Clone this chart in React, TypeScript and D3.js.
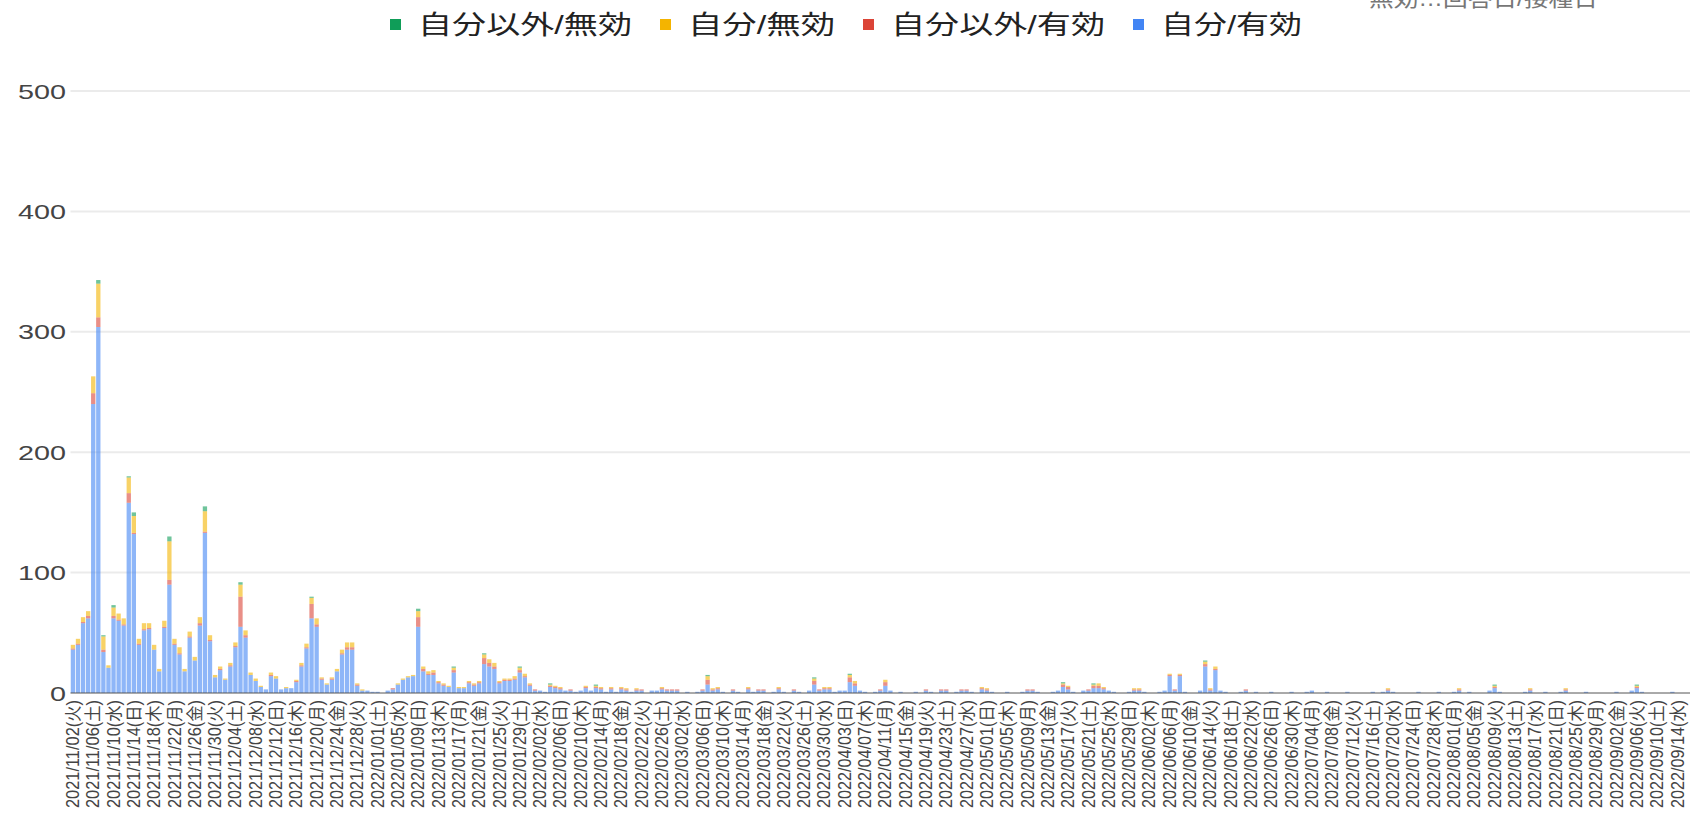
import React, { useEffect, useRef } from "react";
import * as d3 from "d3";

// daily counts from 2021/11/02, one entry per day
const selfValid = [
  36, 40, 58, 62, 240, 304, 34, 21, 62, 60,
  56, 158, 132, 40, 52, 53, 36, 18, 54, 90,
  40, 32, 18, 46, 27, 56, 133, 43, 13, 19,
  11, 22, 38, 55, 46, 15, 10, 5, 3, 14,
  12, 3, 4, 4, 9, 22, 37, 62, 55, 11,
  7, 11, 18, 32, 36, 36, 6, 2, 2, 1,
  1, 0, 2, 3, 7, 11, 13, 14, 55, 18,
  15, 15, 8, 6, 5, 17, 4, 4, 8, 6,
  8, 24, 22, 20, 8, 10, 10, 11, 17, 13,
  6, 2, 2, 1, 5, 4, 3, 2, 2, 1,
  2, 4, 2, 4, 3, 1, 3, 1, 3, 2,
  1, 2, 2, 0, 2, 2, 3, 2, 2, 2,
  0, 1, 0, 1, 2, 7, 2, 3, 1, 0,
  2, 1, 0, 3, 1, 2, 2, 0, 1, 3,
  1, 0, 2, 1, 0, 2, 7, 2, 3, 3,
  1, 2, 2, 9, 6, 2, 1, 0, 1, 2,
  6, 2, 0, 1, 0, 0, 1, 0, 2, 1,
  0, 2, 2, 0, 1, 2, 2, 1, 0, 3,
  2, 1, 0, 0, 1, 0, 0, 1, 2, 2,
  1, 0, 0, 1, 2, 5, 3, 1, 0, 2,
  2, 4, 4, 3, 2, 1, 0, 0, 1, 2,
  2, 1, 0, 0, 1, 2, 14, 2, 14, 1,
  0, 0, 2, 22, 2, 19, 2, 1, 0, 0,
  1, 2, 0, 1, 0, 0, 1, 0, 0, 0,
  1, 0, 0, 1, 2, 0, 0, 1, 0, 0,
  0, 1, 0, 0, 0, 0, 1, 0, 1, 2,
  1, 0, 0, 0, 0, 1, 0, 0, 0, 1,
  0, 0, 1, 2, 0, 1, 0, 0, 0, 2,
  4, 1, 0, 0, 0, 0, 1, 2, 0, 0,
  1, 0, 0, 1, 2, 0, 0, 0, 1, 0,
  0, 0, 0, 0, 1, 0, 0, 2, 4, 1,
  0, 0, 0, 0, 0, 1, 0, 0, 0,
];

const otherValid = [
  1, 1, 1, 2, 9, 8, 2, 0, 2, 1,
  1, 8, 1, 1, 1, 1, 0, 0, 1, 4,
  1, 1, 0, 1, 0, 2, 1, 1, 0, 1,
  0, 1, 1, 25, 2, 0, 0, 0, 0, 1,
  0, 0, 0, 0, 1, 1, 1, 12, 2, 1,
  0, 1, 0, 1, 2, 2, 1, 0, 0, 0,
  0, 0, 0, 1, 0, 0, 0, 0, 8, 2,
  1, 2, 1, 1, 0, 2, 0, 0, 1, 1,
  1, 5, 3, 2, 1, 1, 1, 1, 2, 1,
  1, 1, 0, 0, 1, 1, 1, 0, 1, 0,
  0, 1, 0, 1, 1, 0, 1, 0, 1, 1,
  0, 1, 1, 0, 0, 0, 1, 1, 1, 1,
  0, 0, 0, 0, 1, 4, 1, 1, 0, 0,
  1, 0, 0, 1, 0, 1, 1, 0, 0, 1,
  0, 0, 1, 0, 0, 0, 3, 1, 1, 1,
  0, 0, 0, 4, 2, 0, 0, 0, 0, 1,
  3, 0, 0, 0, 0, 0, 0, 0, 1, 0,
  0, 1, 1, 0, 0, 1, 1, 0, 0, 1,
  1, 0, 0, 0, 0, 0, 0, 0, 1, 1,
  0, 0, 0, 0, 0, 2, 2, 0, 0, 0,
  1, 2, 2, 1, 0, 0, 0, 0, 0, 1,
  1, 0, 0, 0, 0, 0, 1, 1, 1, 0,
  0, 0, 0, 2, 1, 1, 0, 0, 0, 0,
  0, 1, 0, 0, 0, 0, 0, 0, 0, 0,
  0, 0, 0, 0, 0, 0, 0, 0, 0, 0,
  0, 0, 0, 0, 0, 0, 0, 0, 0, 1,
  0, 0, 0, 0, 0, 0, 0, 0, 0, 0,
  0, 0, 0, 1, 0, 0, 0, 0, 0, 0,
  1, 0, 0, 0, 0, 0, 0, 1, 0, 0,
  0, 0, 0, 0, 1, 0, 0, 0, 0, 0,
  0, 0, 0, 0, 0, 0, 0, 0, 1, 0,
  0, 0, 0, 0, 0, 0, 0, 0, 0,
];

const selfInvalid = [
  3, 4, 4, 4, 14, 28, 11, 2, 7, 5,
  5, 13, 14, 4, 5, 4, 4, 2, 5, 32,
  4, 5, 2, 4, 3, 5, 17, 4, 2, 2,
  1, 2, 3, 10, 4, 2, 2, 1, 0, 2,
  2, 0, 1, 0, 1, 2, 3, 5, 5, 1,
  1, 1, 2, 3, 4, 4, 1, 1, 0, 0,
  0, 0, 0, 0, 1, 1, 1, 1, 5, 2,
  2, 2, 1, 1, 1, 2, 1, 1, 1, 1,
  1, 3, 3, 3, 1, 1, 1, 2, 2, 2,
  1, 0, 0, 0, 1, 1, 1, 0, 0, 0,
  0, 1, 0, 1, 1, 0, 1, 0, 1, 1,
  0, 1, 0, 0, 0, 0, 1, 0, 0, 0,
  0, 0, 0, 0, 0, 3, 1, 1, 0, 0,
  0, 0, 0, 1, 0, 0, 0, 0, 0, 1,
  0, 0, 0, 0, 0, 0, 2, 0, 1, 1,
  0, 0, 0, 2, 2, 0, 0, 0, 0, 0,
  2, 0, 0, 0, 0, 0, 0, 0, 0, 0,
  0, 0, 0, 0, 0, 0, 0, 0, 0, 1,
  1, 0, 0, 0, 0, 0, 0, 0, 0, 0,
  0, 0, 0, 0, 0, 1, 1, 0, 0, 0,
  0, 1, 2, 1, 0, 0, 0, 0, 0, 1,
  1, 0, 0, 0, 0, 0, 1, 0, 1, 0,
  0, 0, 0, 2, 1, 2, 0, 0, 0, 0,
  0, 0, 0, 0, 0, 0, 0, 0, 0, 0,
  0, 0, 0, 0, 0, 0, 0, 0, 0, 0,
  0, 0, 0, 0, 0, 0, 0, 0, 0, 1,
  0, 0, 0, 0, 0, 0, 0, 0, 0, 0,
  0, 0, 0, 1, 0, 0, 0, 0, 0, 0,
  1, 0, 0, 0, 0, 0, 0, 1, 0, 0,
  0, 0, 0, 0, 1, 0, 0, 0, 0, 0,
  0, 0, 0, 0, 0, 0, 0, 0, 1, 0,
  0, 0, 0, 0, 0, 0, 0, 0, 0,
];

const otherInvalid = [
  0, 0, 0, 0, 0, 3, 1, 0, 2, 0,
  0, 1, 3, 0, 0, 0, 0, 0, 0, 4,
  0, 0, 0, 0, 0, 0, 4, 0, 0, 0,
  0, 0, 0, 2, 0, 0, 0, 0, 0, 0,
  0, 0, 0, 0, 0, 0, 0, 1, 0, 0,
  0, 0, 0, 0, 0, 0, 0, 0, 0, 0,
  0, 0, 0, 0, 0, 0, 0, 0, 2, 0,
  0, 0, 0, 0, 0, 1, 0, 0, 0, 0,
  0, 1, 0, 0, 0, 0, 0, 0, 1, 0,
  0, 0, 0, 0, 1, 0, 0, 0, 0, 0,
  0, 0, 0, 1, 0, 0, 0, 0, 0, 0,
  0, 0, 0, 0, 0, 0, 0, 0, 0, 0,
  0, 0, 0, 0, 0, 1, 0, 0, 0, 0,
  0, 0, 0, 0, 0, 0, 0, 0, 0, 0,
  0, 0, 0, 0, 0, 0, 1, 0, 0, 0,
  0, 0, 0, 1, 0, 0, 0, 0, 0, 0,
  0, 0, 0, 0, 0, 0, 0, 0, 0, 0,
  0, 0, 0, 0, 0, 0, 0, 0, 0, 0,
  0, 0, 0, 0, 0, 0, 0, 0, 0, 0,
  0, 0, 0, 0, 0, 1, 0, 0, 0, 0,
  0, 1, 0, 0, 0, 0, 0, 0, 0, 0,
  0, 0, 0, 0, 0, 0, 0, 0, 0, 0,
  0, 0, 0, 1, 0, 0, 0, 0, 0, 0,
  0, 0, 0, 0, 0, 0, 0, 0, 0, 0,
  0, 0, 0, 0, 0, 0, 0, 0, 0, 0,
  0, 0, 0, 0, 0, 0, 0, 0, 0, 0,
  0, 0, 0, 0, 0, 0, 0, 0, 0, 0,
  0, 0, 0, 0, 0, 0, 0, 0, 0, 0,
  1, 0, 0, 0, 0, 0, 0, 0, 0, 0,
  0, 0, 0, 0, 0, 0, 0, 0, 0, 0,
  0, 0, 0, 0, 0, 0, 0, 0, 1, 0,
  0, 0, 0, 0, 0, 0, 0, 0, 0,
];

const seriesKeys = ["selfValid", "otherValid", "selfInvalid", "otherInvalid"];
const seriesNames = ["自分/有効", "自分以外/有効", "自分/無効", "自分以外/無効"];
const seriesColors = ["#4285f4", "#db4437", "#f4b400", "#0f9d58"];
const weekdays = ["日", "月", "火", "水", "木", "金", "土"];
const yTicks = [0, 100, 200, 300, 400, 500];
const note = "無効…回答日/接種日";

const font = "Arial, 'Liberation Sans', 'Noto Sans CJK JP', sans-serif";

export default function App() {
  const ref = useRef<SVGSVGElement>(null);
  const width = 1693;
  const height = 814;
  const plotLeft = 70.5;
  const plotRight = 1690;
  const plotTop = 91;
  const plotBottom = 693;

  useEffect(() => {
    const start = new Date(2021, 10, 2);
    const dates = d3.timeDay.range(start, d3.timeDay.offset(start, selfValid.length));
    const rows = dates.map((date, i) => ({
      date,
      selfValid: selfValid[i],
      otherValid: otherValid[i],
      selfInvalid: selfInvalid[i],
      otherInvalid: otherInvalid[i],
    }));

    const x = d3
      .scaleBand<number>()
      .domain(d3.range(rows.length))
      .range([plotLeft, plotRight])
      .paddingInner(0.15)
      .paddingOuter(0.05);
    const y = d3.scaleLinear().domain([0, 500]).range([plotBottom, plotTop]);

    const svg = d3.select(ref.current);
    svg.selectAll("*").remove();

    // gridlines
    svg
      .append("g")
      .selectAll("line")
      .data(yTicks.filter((t) => t > 0))
      .join("line")
      .attr("x1", plotLeft)
      .attr("x2", plotRight)
      .attr("y1", (d) => y(d))
      .attr("y2", (d) => y(d))
      .attr("stroke", "#ebebeb")
      .attr("stroke-width", 2);

    // y labels
    svg
      .append("g")
      .selectAll("text")
      .data(yTicks)
      .join("text")
      .attr("x", 66)
      .attr("y", (d) => y(d))
      .attr("dy", "0.36em")
      .attr("text-anchor", "end")
      .attr("font-size", 21)
      .attr("fill", "#444")
      .attr("textLength", (d) => String(d).length * 16)
      .attr("lengthAdjust", "spacingAndGlyphs")
      .text((d) => d);

    // stacked bars
    const stacked = d3.stack<any>().keys(seriesKeys)(rows);
    svg
      .append("g")
      .selectAll("g")
      .data(stacked)
      .join("g")
      .attr("fill", (_, i) => seriesColors[i])
      .attr("fill-opacity", 0.6)
      .selectAll("rect")
      .data((s) => s.map((d, i) => ({ d, i })))
      .join("rect")
      .attr("x", (p) => x(p.i)!)
      .attr("width", x.bandwidth())
      .attr("y", (p) => y(p.d[1]))
      .attr("height", (p) => y(p.d[0]) - y(p.d[1]));

    // baseline
    svg
      .append("line")
      .attr("x1", plotLeft)
      .attr("x2", plotRight)
      .attr("y1", y(0))
      .attr("y2", y(0))
      .attr("stroke", "#555")
      .attr("stroke-width", 1);

    // x labels, every 4th day
    const fmt = d3.timeFormat("%Y/%m/%d");
    svg
      .append("g")
      .selectAll("text")
      .data(rows.map((r, i) => ({ r, i })).filter((p) => p.i % 4 === 0))
      .join("text")
      .attr(
        "transform",
        (p) =>
          `translate(${x(p.i)! + x.bandwidth() / 2},${plotBottom + 7}) rotate(-90) scale(1,1.25)`
      )
      .attr("text-anchor", "end")
      .attr("dominant-baseline", "central")
      .attr("font-size", 14)
      .attr("fill", "#444")
      .attr("textLength", 108)
      .attr("lengthAdjust", "spacingAndGlyphs")
      .text((p) => `${fmt(p.r.date)}(${weekdays[p.r.date.getDay()]})`);

    // legend, reversed order
    const legendOrder = [3, 2, 1, 0];
    const textWidths = [214, 147, 214, 141];
    let lx = 390;
    const legend = svg.append("g");
    legendOrder.forEach((k, j) => {
      legend
        .append("rect")
        .attr("x", lx)
        .attr("y", 19)
        .attr("width", 11)
        .attr("height", 11)
        .attr("fill", seriesColors[k]);
      legend
        .append("text")
        .attr("x", lx + 28)
        .attr("y", 34)
        .attr("font-size", 26)
        .attr("fill", "#222")
        .attr("textLength", textWidths[j])
        .attr("lengthAdjust", "spacingAndGlyphs")
        .text(seriesNames[k]);
      lx += 28 + textWidths[j] + 28;
    });

    // note at the top right, cut off by the edge
    svg
      .append("text")
      .attr("x", 1369)
      .attr("y", 6)
      .attr("font-size", 22)
      .attr("fill", "#777")
      .attr("textLength", 229)
      .attr("lengthAdjust", "spacingAndGlyphs")
      .text(note);
  }, []);

  return (
    <svg
      ref={ref}
      width={width}
      height={height}
      style={{ position: "absolute", left: 0, top: 0, fontFamily: font, background: "#fff" }}
    ></svg>
  );
}
